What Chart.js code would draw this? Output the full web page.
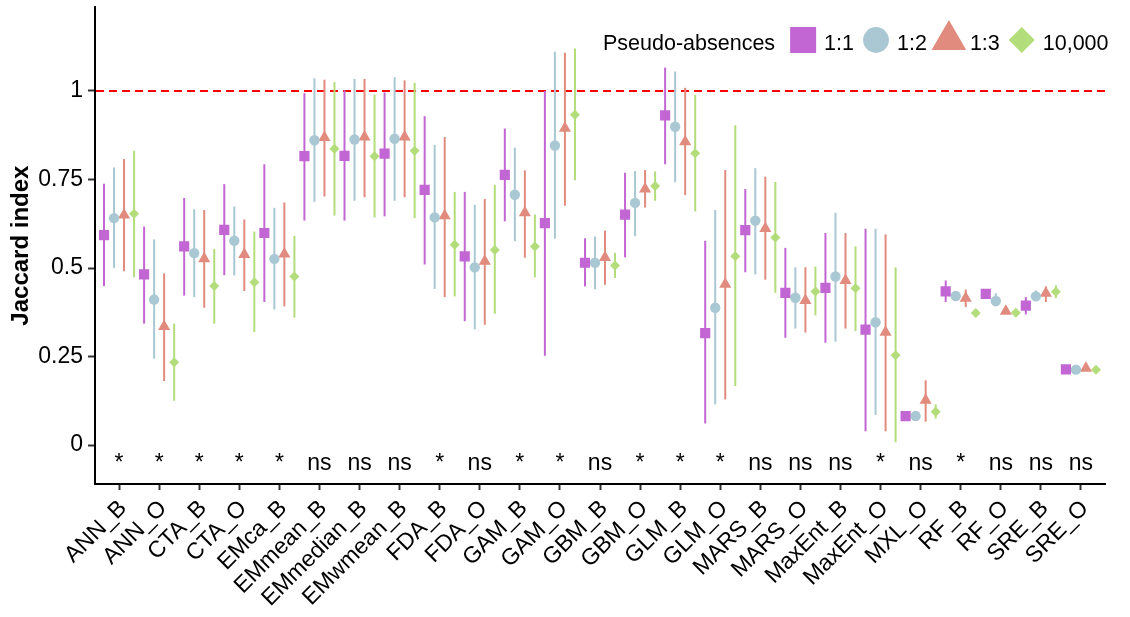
<!DOCTYPE html>
<html>
<head>
<meta charset="utf-8">
<script src="https://cdn.jsdelivr.net/npm/chart.js@4.4.1/dist/chart.umd.min.js"></script>
<style>
  html, body { margin: 0; padding: 0; background: #ffffff; }
  #wrap { width: 1130px; height: 617px; position: relative; }
</style>
</head>
<body>
<div id="wrap"><canvas id="chart" width="1130" height="617"></canvas></div>
<script>
// ---- data ---------------------------------------------------------------
const categories = ['ANN_B', 'ANN_O', 'CTA_B', 'CTA_O', 'EMca_B', 'EMmean_B', 'EMmedian_B',
  'EMwmean_B', 'FDA_B', 'FDA_O', 'GAM_B', 'GAM_O', 'GBM_B', 'GBM_O', 'GLM_B', 'GLM_O',
  'MARS_B', 'MARS_O', 'MaxEnt_B', 'MaxEnt_O', 'MXL_O', 'RF_B', 'RF_O', 'SRE_B', 'SRE_O'];

const significance = ['*', '*', '*', '*', '*', 'ns', 'ns', 'ns', '*', 'ns', '*', '*', 'ns',
  '*', '*', '*', 'ns', 'ns', 'ns', '*', 'ns', '*', 'ns', 'ns', 'ns'];

const seriesLabels = ['1:1', '1:2', '1:3', '10,000'];
const legendTitle = 'Pseudo-absences';

const yTickValues = [0, 0.25, 0.5, 0.75, 1];
const yTickLabels = ['0', '0.25', '0.5', '0.75', '1'];
const referenceValue = 1;
const significanceBaseline = -0.07;

// ratio 1:1
const mean_1_1 = [0.593, 0.482, 0.561, 0.608, 0.599, 0.816, 0.817, 0.823, 0.721, 0.533, 0.763, 0.627, 0.515,
  0.651, 0.931, 0.316, 0.607, 0.430, 0.444, 0.326, 0.082, 0.434, 0.427, 0.394, 0.214];
const low_1_1 = [0.449, 0.343, 0.422, 0.480, 0.404, 0.634, 0.634, 0.646, 0.510, 0.350, 0.632, 0.252, 0.448,
  0.530, 0.793, 0.061, 0.488, 0.303, 0.289, 0.039, 0.080, 0.404, 0.425, 0.369, 0.212];
const high_1_1 = [0.738, 0.617, 0.698, 0.737, 0.793, 0.994, 1.002, 0.996, 0.929, 0.715, 0.894, 1.000, 0.584,
  0.769, 1.066, 0.577, 0.723, 0.557, 0.599, 0.611, 0.084, 0.465, 0.430, 0.418, 0.216];

// ratio 1:2
const mean_1_2 = [0.641, 0.411, 0.542, 0.577, 0.526, 0.861, 0.863, 0.865, 0.643, 0.502, 0.707, 0.846, 0.515,
  0.684, 0.899, 0.388, 0.634, 0.416, 0.476, 0.347, 0.082, 0.421, 0.407, 0.420, 0.213];
const low_1_2 = [0.500, 0.244, 0.418, 0.479, 0.383, 0.687, 0.690, 0.690, 0.441, 0.327, 0.576, 0.583, 0.440,
  0.590, 0.742, 0.115, 0.482, 0.329, 0.292, 0.085, 0.080, 0.410, 0.392, 0.408, 0.211];
const high_1_2 = [0.784, 0.581, 0.666, 0.674, 0.670, 1.036, 1.034, 1.039, 0.848, 0.679, 0.840, 1.111, 0.589,
  0.774, 1.055, 0.664, 0.782, 0.502, 0.656, 0.611, 0.084, 0.432, 0.429, 0.437, 0.215];

// ratio 1:3
const mean_1_3 = [0.650, 0.335, 0.526, 0.538, 0.540, 0.869, 0.870, 0.870, 0.648, 0.519, 0.656, 0.895, 0.530,
  0.723, 0.857, 0.454, 0.612, 0.408, 0.465, 0.319, 0.127, 0.415, 0.378, 0.429, 0.217];
const low_1_3 = [0.491, 0.181, 0.388, 0.435, 0.392, 0.702, 0.700, 0.700, 0.418, 0.340, 0.529, 0.676, 0.453,
  0.671, 0.706, 0.129, 0.467, 0.318, 0.329, 0.039, 0.066, 0.390, 0.376, 0.404, 0.215];
const high_1_3 = [0.808, 0.485, 0.664, 0.637, 0.685, 1.032, 1.034, 1.030, 0.870, 0.695, 0.776, 1.108, 0.606,
  0.777, 1.009, 0.777, 0.758, 0.502, 0.599, 0.595, 0.183, 0.439, 0.380, 0.448, 0.219];

// 10,000 background points
const mean_10000 = [0.653, 0.234, 0.449, 0.460, 0.476, 0.837, 0.816, 0.831, 0.566, 0.551, 0.561, 0.933, 0.507,
  0.732, 0.824, 0.533, 0.586, 0.434, 0.443, 0.254, 0.094, 0.373, 0.374, 0.433, 0.213];
const low_10000 = [0.474, 0.125, 0.343, 0.319, 0.360, 0.648, 0.643, 0.641, 0.420, 0.371, 0.474, 0.748, 0.472,
  0.690, 0.660, 0.167, 0.430, 0.366, 0.322, 0.008, 0.075, 0.371, 0.372, 0.415, 0.211];
const high_10000 = [0.831, 0.343, 0.554, 0.603, 0.591, 1.025, 0.990, 1.023, 0.715, 0.735, 0.651, 1.120, 0.543,
  0.773, 0.989, 0.903, 0.743, 0.504, 0.561, 0.502, 0.115, 0.375, 0.376, 0.451, 0.215];

// ---- styling ------------------------------------------------------------
const FONT = '"Liberation Sans", Arial, Helvetica, sans-serif';
const seriesStyles = [
  { color: '#C266D3', pointStyle: 'rect',     radius: 7.2, legendRadius: 18.4 },
  { color: '#A9C8D3', pointStyle: 'circle',   radius: 5.2, legendRadius: 12.9 },
  { color: '#E08B7D', pointStyle: 'triangle', radius: 7.0, legendRadius: 20 },
  { color: '#B3DD7B', pointStyle: 'rectRot',  radius: 5.0, legendRadius: 13 }
];
const dodge = [-0.375, -0.125, 0.125, 0.375];

const seriesData = [
  { mean: mean_1_1, low: low_1_1, high: high_1_1 },
  { mean: mean_1_2, low: low_1_2, high: high_1_2 },
  { mean: mean_1_3, low: low_1_3, high: high_1_3 },
  { mean: mean_10000, low: low_10000, high: high_10000 }
];

const datasets = seriesData.map((s, k) => ({
  label: seriesLabels[k],
  data: s.mean.map((v, i) => ({ x: i + dodge[k], y: v })),
  low: s.low,
  high: s.high,
  dodge: dodge[k],
  backgroundColor: seriesStyles[k].color,
  borderColor: seriesStyles[k].color,
  borderWidth: 0,
  pointStyle: seriesStyles[k].pointStyle,
  pointRadius: seriesStyles[k].radius,
  pointHoverRadius: seriesStyles[k].radius,
  legendRadius: seriesStyles[k].legendRadius,
  showLine: false
}));

// dashed reference line at the upper bound of the index
const referenceLine = {
  id: 'referenceLine',
  beforeDatasetsDraw(chart) {
    const { ctx, chartArea, scales: { y } } = chart;
    const py = y.getPixelForValue(referenceValue);
    ctx.save();
    ctx.strokeStyle = '#FF0000';
    ctx.lineWidth = 2;
    ctx.setLineDash([8, 5]);
    ctx.beginPath();
    ctx.moveTo(chartArea.left + 1, py);
    ctx.lineTo(chartArea.right, py);
    ctx.stroke();
    ctx.restore();
  }
};

// vertical ranges behind every point
const errorBars = {
  id: 'errorBars',
  beforeDatasetsDraw(chart) {
    const { ctx, scales: { x, y } } = chart;
    ctx.save();
    ctx.lineWidth = 2;
    chart.data.datasets.forEach(ds => {
      ctx.strokeStyle = ds.borderColor;
      ds.low.forEach((lo, i) => {
        const px = x.getPixelForValue(i + ds.dodge);
        ctx.beginPath();
        ctx.moveTo(px, y.getPixelForValue(lo));
        ctx.lineTo(px, y.getPixelForValue(ds.high[i]));
        ctx.stroke();
      });
    });
    ctx.restore();
  }
};

// significance marks under each model
const significanceLabels = {
  id: 'significanceLabels',
  afterDatasetsDraw(chart) {
    const { ctx, scales: { x, y } } = chart;
    ctx.save();
    ctx.fillStyle = '#000';
    ctx.font = '23px ' + FONT;
    ctx.textAlign = 'center';
    ctx.textBaseline = 'alphabetic';
    const py = y.getPixelForValue(significanceBaseline);
    significance.forEach((s, i) => ctx.fillText(s, x.getPixelForValue(i), py));
    ctx.restore();
  }
};

function drawShape(ctx, style, r, cx, cy) {
  if (Chart.helpers && Chart.helpers.drawPoint) {
    Chart.helpers.drawPoint(ctx, { pointStyle: style, radius: r, rotation: 0, borderWidth: 0 }, cx, cy);
    return;
  }
  ctx.beginPath();
  if (style === 'rect') {
    const h = r * Math.SQRT1_2; ctx.rect(cx - h, cy - h, 2 * h, 2 * h);
  } else if (style === 'circle') {
    ctx.arc(cx, cy, r, 0, Math.PI * 2);
  } else if (style === 'triangle') {
    for (let k = 0; k < 3; k++) {
      const a = k * 2 * Math.PI / 3;
      const fx = cx + Math.sin(a) * r, fy = cy - Math.cos(a) * r;
      k ? ctx.lineTo(fx, fy) : ctx.moveTo(fx, fy);
    }
    ctx.closePath();
  } else {
    ctx.moveTo(cx - r, cy); ctx.lineTo(cx, cy - r); ctx.lineTo(cx + r, cy); ctx.lineTo(cx, cy + r); ctx.closePath();
  }
  ctx.fill();
}

// horizontal legend with its title on the same row
const inlineLegend = {
  id: 'inlineLegend',
  afterDraw(chart) {
    const { ctx } = chart;
    const baseline = 50, mid = 40;
    ctx.save();
    ctx.font = '21.5px ' + FONT;
    ctx.fillStyle = '#000';
    ctx.textBaseline = 'alphabetic';
    ctx.textAlign = 'left';
    let cx = 603;
    ctx.fillText(legendTitle, cx, baseline);
    cx += ctx.measureText(legendTitle).width + 28;
    chart.data.datasets.forEach(ds => {
      ctx.fillStyle = ds.backgroundColor;
      drawShape(ctx, ds.pointStyle, ds.legendRadius, cx, mid);
      cx += 21;
      ctx.fillStyle = '#000';
      ctx.fillText(ds.label, cx, baseline);
      cx += ctx.measureText(ds.label).width + 22;
    });
    ctx.restore();
  }
};

new Chart(document.getElementById('chart'), {
  type: 'scatter',
  data: { datasets },
  plugins: [referenceLine, errorBars, significanceLabels, inlineLegend],
  options: {
    responsive: false,
    animation: false,
    devicePixelRatio: 1,
    layout: { padding: { top: 6, right: 25, bottom: 0, left: 0 } },
    plugins: { legend: { display: false }, tooltip: { enabled: false } },
    scales: {
      x: {
        type: 'linear',
        min: -0.6,
        max: 24.6,
        afterBuildTicks(scale) { scale.ticks = categories.map((_, i) => ({ value: i })); },
        afterFit(scale) {
          scale.height = 133;
          scale.paddingLeft = 0;
          scale.paddingRight = 0;
        },
        ticks: {
          autoSkip: false,
          minRotation: 45,
          maxRotation: 45,
          padding: 5,
          labelOffset: 4,
          color: '#000',
          font: { family: FONT, size: 23 },
          callback: (v) => categories[v] ?? ''
        },
        grid: { display: true, drawOnChartArea: false, drawTicks: true, tickLength: 6, tickColor: '#333', tickWidth: 2 },
        border: { display: true, color: '#000', width: 2 }
      },
      y: {
        min: -39 / 355,
        max: 439 / 355,
        afterBuildTicks(scale) { scale.ticks = yTickValues.map(v => ({ value: v })); },
        afterFit(scale) {
          scale.width = 95;
          scale.paddingTop = 0;
          scale.paddingBottom = 0;
        },
        ticks: {
          padding: 5,
          color: '#000',
          font: { family: FONT, size: 23 },
          callback: (v) => yTickLabels[yTickValues.indexOf(v)]
        },
        grid: { display: true, drawOnChartArea: false, drawTicks: true, tickLength: 7, tickColor: '#333', tickWidth: 2 },
        border: { display: true, color: '#000', width: 2 },
        title: {
          display: true,
          text: 'Jaccard index',
          color: '#000',
          font: { family: FONT, size: 24, weight: 'bold' },
          padding: { top: 7, bottom: 0 }
        }
      }
    }
  }
});
</script>
</body>
</html>
